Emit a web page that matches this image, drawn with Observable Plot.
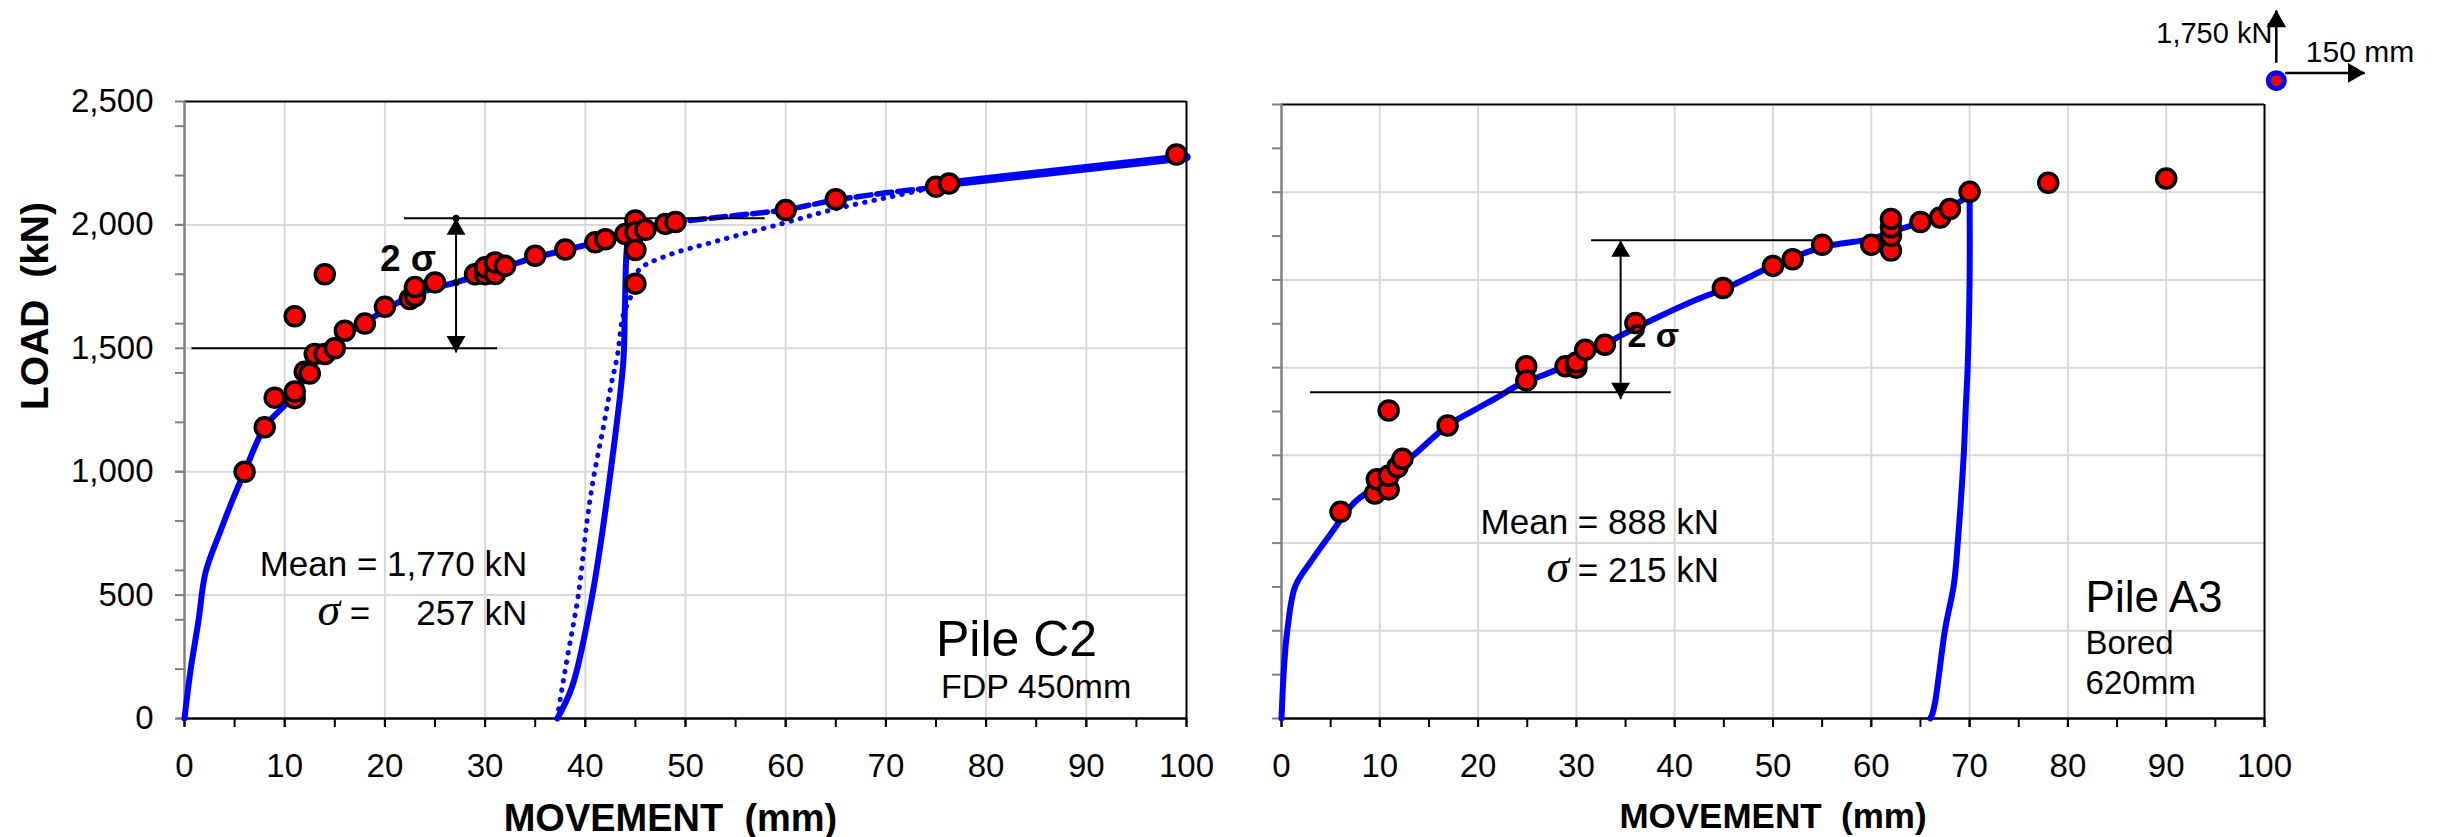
<!DOCTYPE html>
<html>
<head>
<meta charset="utf-8">
<script src="https://cdn.jsdelivr.net/npm/d3@7"></script>
<script src="https://cdn.jsdelivr.net/npm/@observablehq/plot@0.6"></script>
<style>
  html, body { margin: 0; padding: 0; background: #ffffff; }
  #wrap { position: relative; width: 2443px; height: 837px; overflow: hidden; background: #ffffff; }
  #wrap svg { position: absolute; top: 0; overflow: visible; max-width: none; }
</style>
</head>
<body>
<div id="wrap"></div>
<script>
// ---------------- DATA ----------------
// Shared movement axis (mm)
const moveDomain = [0, 100];
const moveTicks = [0, 10, 20, 30, 40, 50, 60, 70, 80, 90, 100];
const moveMinorTicks = [0, 5, 10, 15, 20, 25, 30, 35, 40, 45, 50, 55, 60, 65, 70, 75, 80, 85, 90, 95, 100];
const moveGrid = [10, 20, 30, 40, 50, 60, 70, 80, 90];

// Pile C2 (left panel) load axis (kN)
const c2LoadDomain = [0, 2500];
const c2LoadTicks = [0, 500, 1000, 1500, 2000, 2500];
const c2LoadMinorTicks = [0, 200, 400, 600, 800, 1000, 1200, 1400, 1600, 1800, 2000, 2200, 2400];
const c2LoadGrid = [500, 1000, 1500, 2000];

// Pile C2 measured points [movement mm, load kN]
const c2Points = [
  [6, 1000], [8, 1180], [9, 1300], [11, 1298], [11, 1325], [11, 1630], [12, 1405], [12.5, 1398],
  [13, 1477], [14, 1477], [14, 1800], [15, 1500], [16, 1571], [18, 1600], [20, 1668], [22.5, 1700],
  [23, 1712], [23, 1748], [25, 1767], [29, 1800], [30, 1800], [30, 1828], [31, 1801], [31, 1848],
  [32, 1834], [35, 1875], [38, 1900], [41, 1930], [42, 1942], [44, 1963], [45, 2018], [45, 1970],
  [45, 1898], [45, 1762], [46, 1980], [48, 2004], [49, 2012], [60, 2060], [65, 2104], [75, 2155],
  [76.3, 2168], [99, 2285]
];
// Pile C2 curves
const c2Loading = [
  [0, 0], [0.6, 194], [1.4, 397], [2.1, 592], [3.6, 761], [4.9, 896], [6, 1000], [8, 1180],
  [10, 1268], [11, 1310], [12, 1380], [13, 1440], [14, 1478], [15, 1508], [16, 1550], [18, 1603],
  [20, 1655], [22, 1700], [25, 1745], [27.1, 1767], [30, 1805], [32, 1830], [35, 1868], [38, 1898],
  [41, 1928], [44.3, 1965]
];
const c2Unloading = [
  [44.3, 1965], [44.1, 1880], [43.95, 1660], [43.8, 1450], [43.1, 1183], [40.7, 500], [38.7, 131], [37.2, 0]
];
const c2Reloading = [
  [37.2, 0], [37.5, 78], [38.2, 245], [39.3, 500], [40.2, 808], [40.9, 993], [41.8, 1180], [42.6, 1355],
  [43.2, 1470], [43.8, 1637], [44.5, 1705], [45.3, 1815], [48, 1873], [52.9, 1932], [59.8, 2007],
  [64.7, 2062], [70, 2110], [75, 2153]
];
const c2Dashed = [
  [44.3, 1965], [46, 1985], [49, 2012], [55, 2038], [60, 2060], [65, 2102], [70, 2130], [75, 2153]
];
const c2Final = [[75, 2153], [76.3, 2168], [100, 2275]];

// Pile C2 statistics annotation: lines [x1, x2, load], arrow, labels
const c2SigmaLines = [[21.9, 57.9, 2027], [0.7, 31.2, 1500]];
const c2SigmaArrow = [{x: 27.1, top: 2027, bottom: 1483, mean: 1767}];
const c2SigmaLabel = [{x: 19.5, y: 1814, text: "2 σ"}];
const c2StatText = [{x: 34.2, y: 576, text: "Mean = 1,770 kN"}, {x: 34.2, y: 377, text: "257 kN"}];
const c2EqualsText = [{x: 17.5, y: 377, text: "="}];
const c2SigmaSymbol = [{x: 14.4, y: 377, text: "σ"}];
const c2Title = [{x: 75.0, y: 255, text: "Pile C2"}];
const c2Subtitle = [{x: 75.5, y: 85, text: "FDP 450mm"}];

// Pile A3 (right panel) load axis (kN)
const a3LoadDomain = [0, 1750];
const a3LoadMinorTicks = [0, 125, 250, 375, 500, 625, 750, 875, 1000, 1125, 1250, 1375, 1500, 1625, 1750];
const a3LoadGrid = [250, 500, 750, 1000, 1250, 1500];

const a3Points = [
  [6, 589], [9.5, 641], [9.7, 682], [10.9, 653], [10.9, 692], [11.8, 717], [12.3, 740], [10.9, 878],
  [16.9, 835], [24.9, 1004], [24.9, 963], [28.9, 1004], [30, 1000], [30, 1015], [30.9, 1051],
  [32.9, 1065], [36, 1127], [44.9, 1227], [50, 1290], [52, 1309], [55, 1350], [60, 1350], [62, 1334],
  [62, 1376], [62, 1400], [62, 1424], [65, 1415], [67, 1428], [68, 1452], [70, 1501], [78, 1527], [90, 1539]
];
const a3Loading = [
  [0, 0], [0.26, 148], [0.6, 253], [1.4, 377], [3.0, 448], [5.1, 530], [7.4, 615], [10, 670],
  [12, 720], [13.5, 752], [16.9, 835], [20, 885], [22, 916], [24, 949], [29, 1006], [34.5, 1091],
  [38, 1140], [42.3, 1195], [45, 1224], [47.5, 1257], [50, 1291], [55, 1343], [60, 1367], [62, 1386],
  [65.8, 1424], [70, 1490]
];
const a3Unloading = [
  [70, 1490], [70, 1250], [69.8, 1000], [69.6, 880], [69.4, 750], [68.8, 503], [68.4, 382],
  [67.5, 253], [66.5, 48], [66.2, 12], [66, 0]
];
const a3SigmaLines = [[31.5, 54.0, 1363], [2.9, 39.6, 930]];
const a3SigmaArrow = [{x: 34.5, top: 1363, bottom: 910}];
const a3SigmaLabel = [{x: 35.2, y: 1058, text: "2 σ"}];
const a3StatText = [{x: 44.5, y: 527, text: "Mean = 888 kN"}, {x: 44.5, y: 388, text: "= 215 kN"}];
const a3SigmaSymbol = [{x: 28.1, y: 388, text: "σ"}];
const a3Title = [{x: 81.8, y: 303, text: "Pile A3"}];
const a3Subtitle = [{x: 81.8, y: 185, text: "Bored"}, {x: 81.8, y: 71, text: "620mm"}];

// Scale key (top right), in right-panel data units
const keyDot = [{x: 101.2, y: 1818}];
const keyUp = [{x: 101.2, y1: 1869, y2: 2018}];
const keyRight = [{y: 1840, x1: 102.1, x2: 110.2}];
const keyLoadLabel = [{x: 100.8, y: 1924, text: "1,750 kN"}];
const keyMoveLabel = [{x: 104.2, y: 1872, text: "150 mm"}];

const xLabel = "MOVEMENT\u00a0 (mm)";
const yLabel = "LOAD\u00a0 (kN)";

// ---------------- STYLE ----------------
const FONT = 'Arial, "Liberation Sans", Helvetica, sans-serif';
const SERIF = '"Liberation Serif", "DejaVu Serif", serif';
const BLUE = "#0000ff";
const RED = "#ff0000";
const GRID = "#d9d9d9";
const AXISGRAY = "#808080";
const LW = 6;
const X = d => d[0], Y = d => d[1];

function frameMarks(loadDomain, loadGrid, loadMinor, loadLabels) {
  return [
    Plot.gridX(moveGrid, {stroke: GRID, strokeOpacity: 1, strokeWidth: 2}),
    Plot.gridY(loadGrid, {stroke: GRID, strokeOpacity: 1, strokeWidth: 2}),
    Plot.ruleY([loadDomain[1]], {stroke: "black", strokeWidth: 2}),
    Plot.ruleX([moveDomain[1]], {stroke: "black", strokeWidth: 2}),
    Plot.axisY({ticks: loadMinor, tickSize: 9, stroke: AXISGRAY, strokeWidth: 2, tickFormat: () => "", label: null}),
    loadLabels ? Plot.axisY({ticks: loadLabels, tickSize: 9, tickPadding: 22, stroke: AXISGRAY, strokeWidth: 2,
      color: "black", fontSize: 33, tickFormat: d3.format(","), label: null}) : null,
    Plot.axisX({ticks: moveMinorTicks, tickSize: 9, stroke: "black", strokeWidth: 2, tickFormat: () => "", label: null}),
    Plot.axisX({ticks: moveTicks, tickSize: 9, tickPadding: 26, stroke: "black", strokeWidth: 2,
      color: "black", fontSize: 33, tickFormat: d3.format("d"), label: null}),
    Plot.ruleX([moveDomain[0]], {stroke: AXISGRAY, strokeWidth: 2.5}),
    Plot.ruleY([loadDomain[0]], {stroke: "black", strokeWidth: 2.5})
  ];
}

function sigmaMarks(lines, arrow, withDots) {
  return [
    Plot.link(lines, {x1: d => d[0], x2: d => d[1], y1: d => d[2], y2: d => d[2], stroke: "black", strokeWidth: 2}),
    Plot.link(arrow, {x1: "x", x2: "x", y1: "top", y2: "bottom", stroke: "black", strokeWidth: 2}),
    Plot.dot(arrow, {x: "x", y: "top", symbol: "triangle", r: 7, fill: "black", stroke: "none", dy: 11}),
    Plot.dot(arrow, {x: "x", y: "bottom", symbol: "triangle", r: 7, fill: "black", stroke: "none", rotate: 180, dy: -11}),
    withDots ? Plot.dot(arrow, {x: "x", y: "top", r: 3.5, fill: "black"}) : null,
    withDots ? Plot.dot(arrow, {x: "x", y: "mean", r: 3.5, fill: "black"}) : null
  ];
}

// ---------------- LEFT PANEL ----------------
const left = Plot.plot({
  width: 1230, height: 837,
  marginLeft: 184, marginRight: 44, marginTop: 101, marginBottom: 119,
  x: {domain: moveDomain, label: null},
  y: {domain: c2LoadDomain, label: null},
  style: {fontFamily: FONT, fontSize: "33px", color: "black", background: "white", overflow: "visible"},
  marks: [
    ...frameMarks(c2LoadDomain, c2LoadGrid, c2LoadMinorTicks, c2LoadTicks),
    Plot.line(c2Reloading, {x: X, y: Y, stroke: BLUE, strokeWidth: 5, strokeDasharray: "0.5,9", strokeLinecap: "round", curve: "catmull-rom"}),
    Plot.line(c2Dashed, {x: X, y: Y, stroke: BLUE, strokeWidth: 5.5, strokeDasharray: "15,6", curve: "linear"}),
    Plot.line(c2Final, {x: X, y: Y, stroke: BLUE, strokeWidth: 8.5, curve: "linear"}),
    Plot.line(c2Unloading, {x: X, y: Y, stroke: BLUE, strokeWidth: LW, curve: "catmull-rom"}),
    Plot.line(c2Loading, {x: X, y: Y, stroke: BLUE, strokeWidth: LW, curve: "catmull-rom"}),
    ...sigmaMarks(c2SigmaLines, c2SigmaArrow, true),
    Plot.dot(c2Points, {x: X, y: Y, r: 9.5, fill: RED, stroke: "black", strokeWidth: 3.5}),
    Plot.text(c2SigmaLabel, {x: "x", y: "y", text: "text", textAnchor: "start", lineAnchor: "bottom", fontSize: 37, fontWeight: "bold"}),
    Plot.text(c2StatText, {x: "x", y: "y", text: "text", textAnchor: "end", lineAnchor: "bottom", fontSize: 35}),
    Plot.text(c2EqualsText, {x: "x", y: "y", text: "text", textAnchor: "middle", lineAnchor: "bottom", fontSize: 35}),
    Plot.text(c2SigmaSymbol, {x: "x", y: "y", text: "text", textAnchor: "middle", lineAnchor: "bottom", fontSize: 46, fontStyle: "italic", fontFamily: SERIF}),
    Plot.text(c2Title, {x: "x", y: "y", text: "text", textAnchor: "start", lineAnchor: "bottom", fontSize: 50}),
    Plot.text(c2Subtitle, {x: "x", y: "y", text: "text", textAnchor: "start", lineAnchor: "bottom", fontSize: 34}),
    Plot.text([xLabel], {text: d => d, frameAnchor: "bottom", dx: -15, dy: 112, lineAnchor: "bottom", fontSize: 38, fontWeight: "bold"}),
    Plot.text([yLabel], {text: d => d, frameAnchor: "left", dx: -137, rotate: -90, lineAnchor: "bottom", fontSize: 39, fontWeight: "bold"})
  ]
});
left.style.left = "0px";

// ---------------- RIGHT PANEL ----------------
const right = Plot.plot({
  width: 1213, height: 837,
  marginLeft: 51, marginRight: 179, marginTop: 104, marginBottom: 119,
  x: {domain: moveDomain, label: null},
  y: {domain: a3LoadDomain, label: null},
  style: {fontFamily: FONT, fontSize: "33px", color: "black", background: "white", overflow: "visible"},
  marks: [
    ...frameMarks(a3LoadDomain, a3LoadGrid, a3LoadMinorTicks, null),
    Plot.line(a3Unloading, {x: X, y: Y, stroke: BLUE, strokeWidth: LW, curve: "catmull-rom"}),
    Plot.line(a3Loading, {x: X, y: Y, stroke: BLUE, strokeWidth: LW, curve: "catmull-rom"}),
    ...sigmaMarks(a3SigmaLines, a3SigmaArrow, false),
    Plot.dot(a3Points, {x: X, y: Y, r: 9.5, fill: RED, stroke: "black", strokeWidth: 3.5}),
    Plot.text(a3SigmaLabel, {x: "x", y: "y", text: "text", textAnchor: "start", lineAnchor: "bottom", fontSize: 34, fontWeight: "bold"}),
    Plot.text(a3StatText, {x: "x", y: "y", text: "text", textAnchor: "end", lineAnchor: "bottom", fontSize: 35}),
    Plot.text(a3SigmaSymbol, {x: "x", y: "y", text: "text", textAnchor: "middle", lineAnchor: "bottom", fontSize: 46, fontStyle: "italic", fontFamily: SERIF}),
    Plot.text(a3Title, {x: "x", y: "y", text: "text", textAnchor: "start", lineAnchor: "bottom", fontSize: 44}),
    Plot.text(a3Subtitle, {x: "x", y: "y", text: "text", textAnchor: "start", lineAnchor: "bottom", fontSize: 33}),
    Plot.text([xLabel], {text: d => d, frameAnchor: "bottom", dy: 109, lineAnchor: "bottom", fontSize: 35, fontWeight: "bold"}),
    // scale key
    Plot.link(keyUp, {x1: "x", x2: "x", y1: "y1", y2: "y2", stroke: "black", strokeWidth: 2.5}),
    Plot.dot(keyUp, {x: "x", y: "y2", symbol: "triangle", r: 7.3, fill: "black", stroke: "none", dy: 11}),
    Plot.link(keyRight, {x1: "x1", x2: "x2", y1: "y", y2: "y", stroke: "black", strokeWidth: 2.5}),
    Plot.dot(keyRight, {x: "x2", y: "y", symbol: "triangle", r: 7.3, fill: "black", stroke: "none", rotate: 90, dx: -11}),
    Plot.dot(keyDot, {x: "x", y: "y", r: 8, fill: RED, stroke: BLUE, strokeWidth: 5}),
    Plot.text(keyLoadLabel, {x: "x", y: "y", text: "text", textAnchor: "end", lineAnchor: "bottom", fontSize: 29}),
    Plot.text(keyMoveLabel, {x: "x", y: "y", text: "text", textAnchor: "start", lineAnchor: "bottom", fontSize: 30})
  ]
});
right.style.left = "1230px";

const wrap = document.getElementById("wrap");
wrap.appendChild(left);
wrap.appendChild(right);
</script>
</body>
</html>
